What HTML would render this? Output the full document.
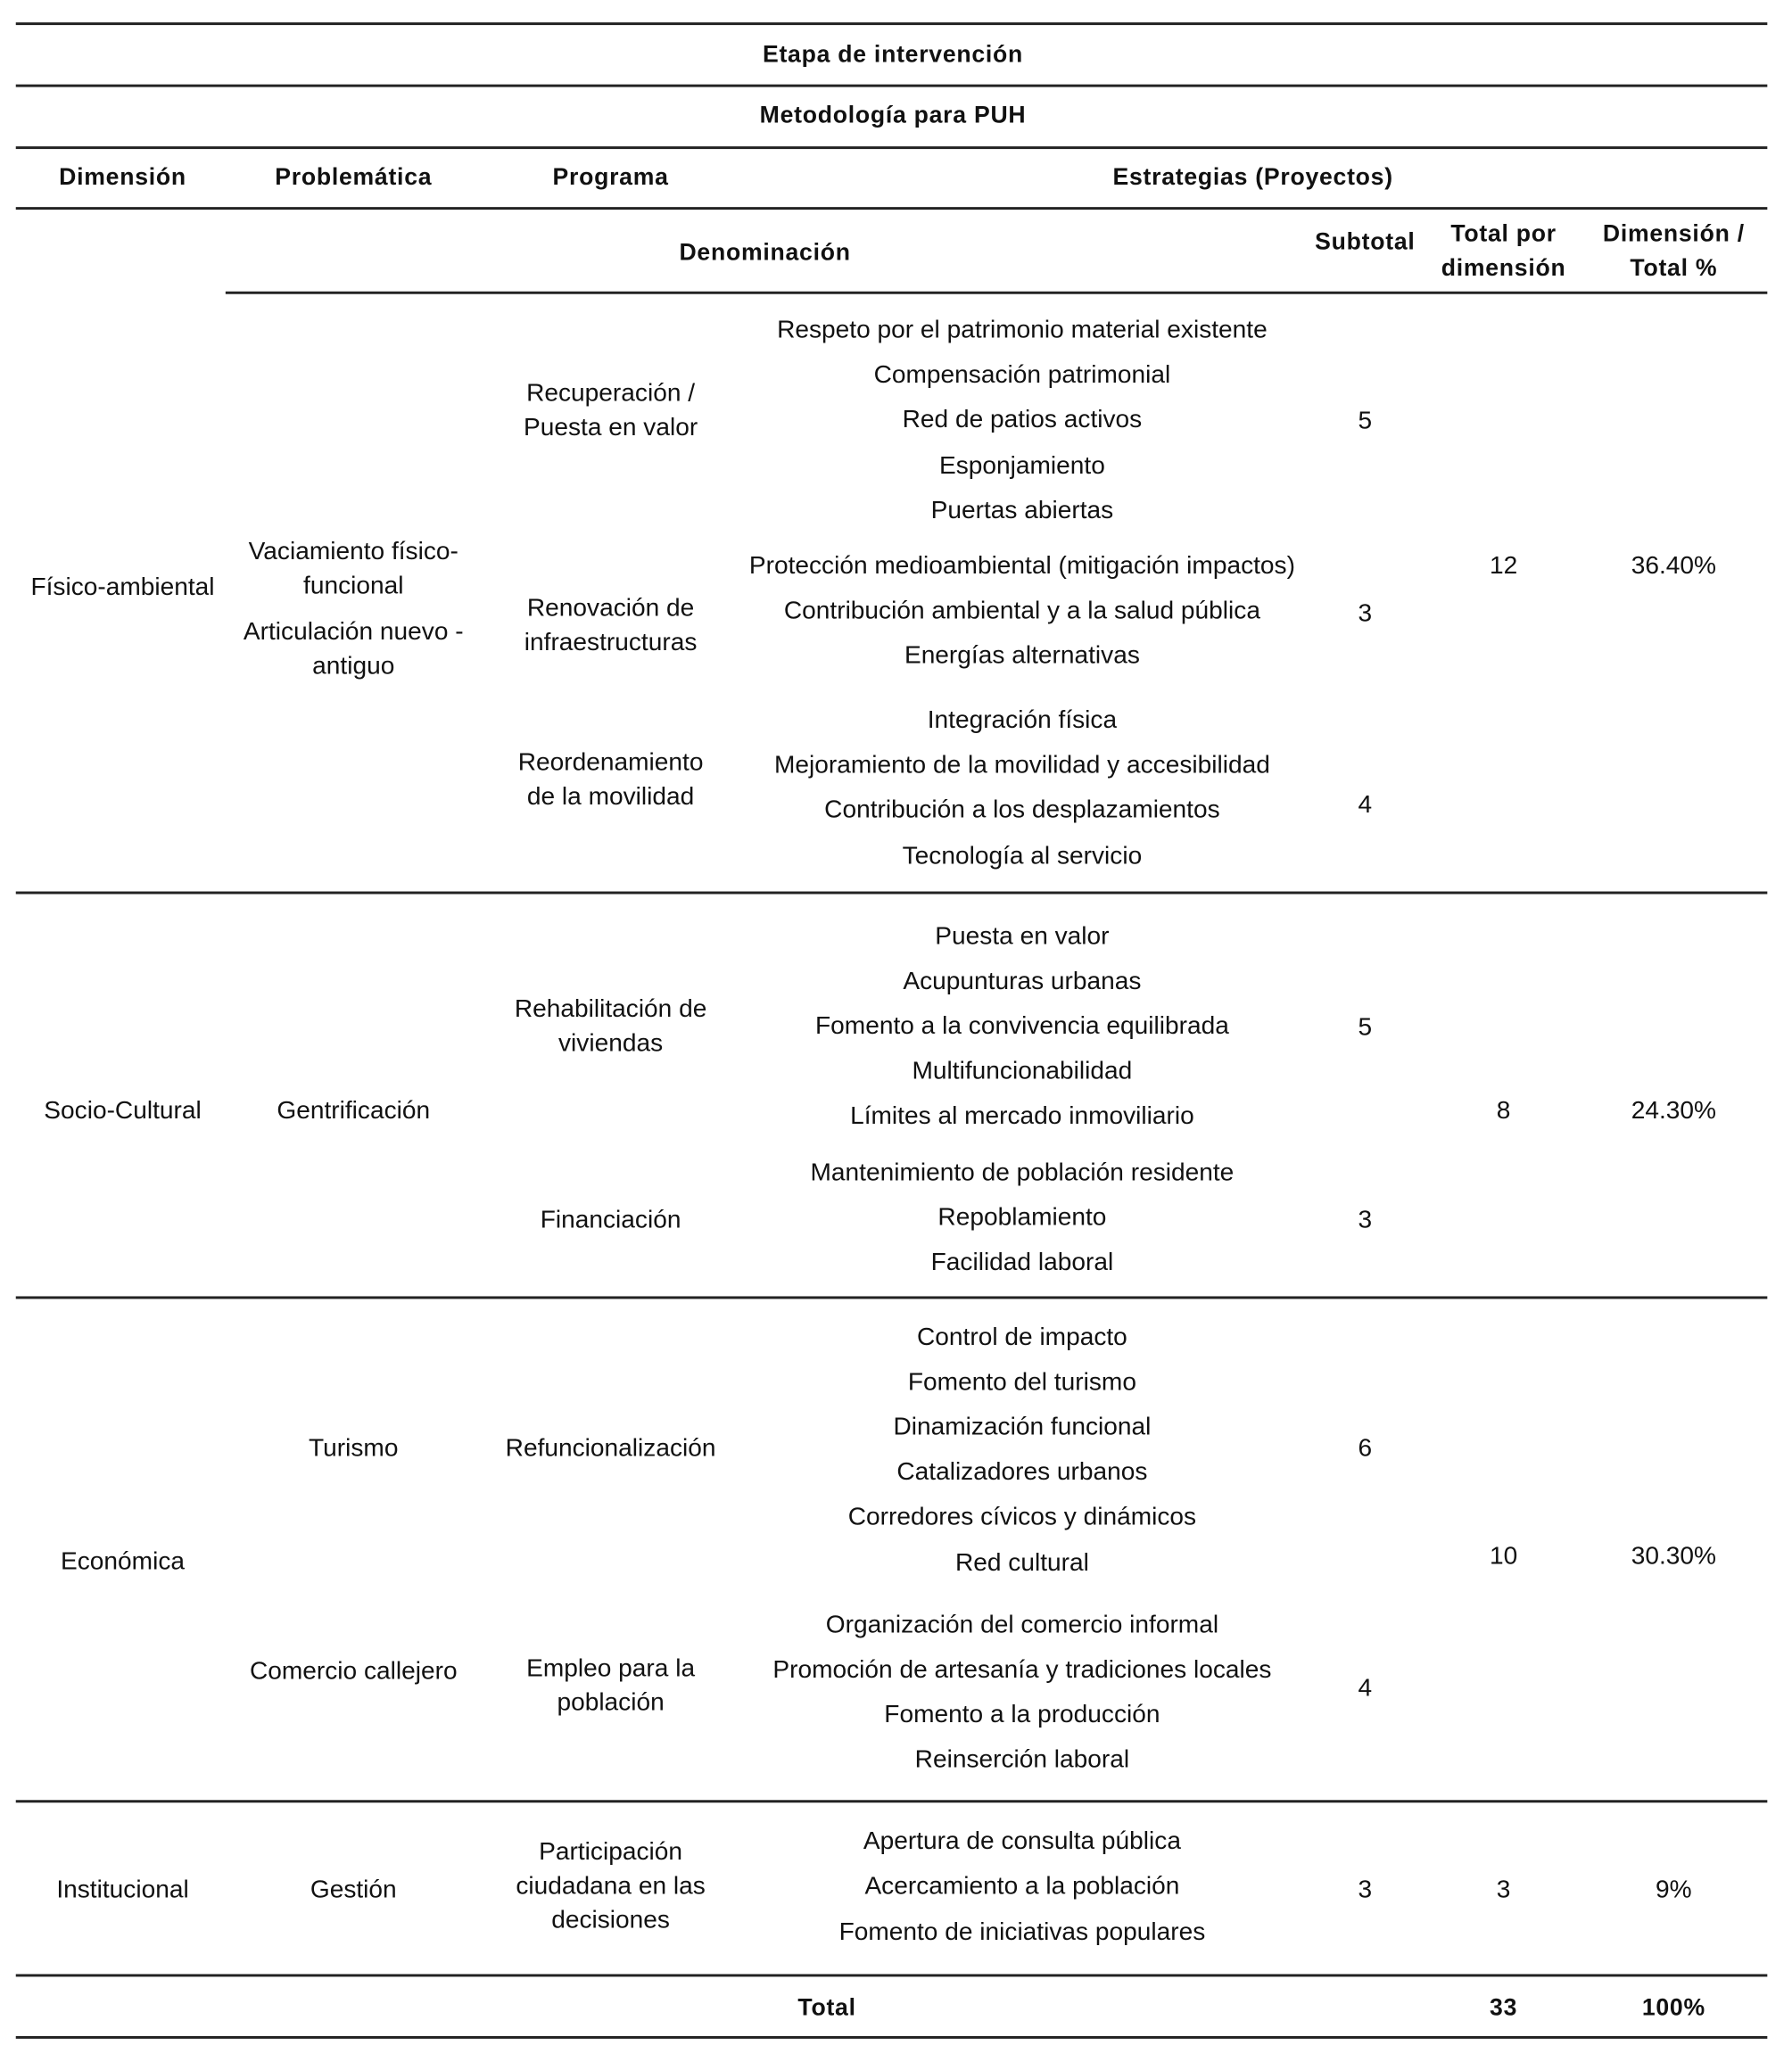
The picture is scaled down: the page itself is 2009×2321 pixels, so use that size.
<!DOCTYPE html>
<html><head><meta charset="utf-8"><style>
html,body{margin:0;padding:0;background:#fff;}
body{width:2009px;height:2318px;overflow:hidden;position:relative;}
#w{position:absolute;left:0;top:0;width:1360px;height:1570px;transform:scale(1.4786);transform-origin:0 0;font-family:"Liberation Sans",sans-serif;font-size:19px;color:#111;}
.t{position:absolute;transform:translate(-50%,-50%);white-space:nowrap;text-align:center;line-height:26px;}
.b{font-weight:bold;font-size:18px;letter-spacing:0.5px;}
.l{position:absolute;height:1.6px;background:#222;}
</style></head><body><div id="w">
<div class="l" style="left:12px;width:1328px;top:17px"></div>
<div class="l" style="left:12px;width:1328px;top:64px"></div>
<div class="l" style="left:12px;width:1328px;top:111px"></div>
<div class="l" style="left:12px;width:1328px;top:157px"></div>
<div class="l" style="left:171px;width:1169px;top:221px"></div>
<div class="l" style="left:12px;width:1328px;top:676px"></div>
<div class="l" style="left:12px;width:1328px;top:983px"></div>
<div class="l" style="left:12px;width:1328px;top:1365px"></div>
<div class="l" style="left:12px;width:1328px;top:1497px"></div>
<div class="l" style="left:12px;width:1328px;top:1544px"></div>

<div class="t b" style="left:677px;top:41px">Etapa de intervención</div>
<div class="t b" style="left:677px;top:87px">Metodología para PUH</div>
<div class="t b" style="left:93px;top:134px">Dimensión</div>
<div class="t b" style="left:268px;top:134px">Problemática</div>
<div class="t b" style="left:463px;top:134px">Programa</div>
<div class="t b" style="left:950px;top:134px">Estrategias (Proyectos)</div>
<div class="t b" style="left:580px;top:191px">Denominación</div>
<div class="t b" style="left:1035px;top:183px">Subtotal</div>
<div class="t b" style="left:1140px;top:190px">Total por<br>dimensión</div>
<div class="t b" style="left:1269px;top:190px">Dimensión /<br>Total %</div>

<div class="t" style="left:93px;top:446px">Físico-ambiental</div>
<div class="t" style="left:268px;top:432px">Vaciamiento físico-<br>funcional</div>
<div class="t" style="left:268px;top:493px">Articulación nuevo -<br>antiguo</div>
<div class="t" style="left:463px;top:312px">Recuperación /<br>Puesta en valor</div>
<div class="t" style="left:463px;top:475px">Renovación de<br>infraestructuras</div>
<div class="t" style="left:463px;top:592px">Reordenamiento<br>de la movilidad</div>
<div class="t" style="left:775px;top:251px">Respeto por el patrimonio material existente</div>
<div class="t" style="left:775px;top:285px">Compensación patrimonial</div>
<div class="t" style="left:775px;top:319px">Red de patios activos</div>
<div class="t" style="left:775px;top:354px">Esponjamiento</div>
<div class="t" style="left:775px;top:388px">Puertas abiertas</div>
<div class="t" style="left:775px;top:430px">Protección medioambiental (mitigación impactos)</div>
<div class="t" style="left:775px;top:464px">Contribución ambiental y a la salud pública</div>
<div class="t" style="left:775px;top:498px">Energías alternativas</div>
<div class="t" style="left:775px;top:547px">Integración física</div>
<div class="t" style="left:775px;top:581px">Mejoramiento de la movilidad y accesibilidad</div>
<div class="t" style="left:775px;top:615px">Contribución a los desplazamientos</div>
<div class="t" style="left:775px;top:650px">Tecnología al servicio</div>
<div class="t" style="left:1035px;top:320px">5</div>
<div class="t" style="left:1035px;top:466px">3</div>
<div class="t" style="left:1035px;top:611px">4</div>
<div class="t" style="left:1140px;top:430px">12</div>
<div class="t" style="left:1269px;top:430px">36.40%</div>

<div class="t" style="left:93px;top:843px">Socio-Cultural</div>
<div class="t" style="left:268px;top:843px">Gentrificación</div>
<div class="t" style="left:463px;top:779px">Rehabilitación de<br>viviendas</div>
<div class="t" style="left:463px;top:926px">Financiación</div>
<div class="t" style="left:775px;top:711px">Puesta en valor</div>
<div class="t" style="left:775px;top:745px">Acupunturas urbanas</div>
<div class="t" style="left:775px;top:779px">Fomento a la convivencia equilibrada</div>
<div class="t" style="left:775px;top:813px">Multifuncionabilidad</div>
<div class="t" style="left:775px;top:847px">Límites al mercado inmoviliario</div>
<div class="t" style="left:775px;top:890px">Mantenimiento de población residente</div>
<div class="t" style="left:775px;top:924px">Repoblamiento</div>
<div class="t" style="left:775px;top:958px">Facilidad laboral</div>
<div class="t" style="left:1035px;top:780px">5</div>
<div class="t" style="left:1035px;top:926px">3</div>
<div class="t" style="left:1140px;top:843px">8</div>
<div class="t" style="left:1269px;top:843px">24.30%</div>

<div class="t" style="left:93px;top:1185px">Económica</div>
<div class="t" style="left:268px;top:1099px">Turismo</div>
<div class="t" style="left:268px;top:1268px">Comercio callejero</div>
<div class="t" style="left:463px;top:1099px">Refuncionalización</div>
<div class="t" style="left:463px;top:1279px">Empleo para la<br>población</div>
<div class="t" style="left:775px;top:1015px">Control de impacto</div>
<div class="t" style="left:775px;top:1049px">Fomento del turismo</div>
<div class="t" style="left:775px;top:1083px">Dinamización funcional</div>
<div class="t" style="left:775px;top:1117px">Catalizadores urbanos</div>
<div class="t" style="left:775px;top:1151px">Corredores cívicos y dinámicos</div>
<div class="t" style="left:775px;top:1186px">Red cultural</div>
<div class="t" style="left:775px;top:1233px">Organización del comercio informal</div>
<div class="t" style="left:775px;top:1267px">Promoción de artesanía y tradiciones locales</div>
<div class="t" style="left:775px;top:1301px">Fomento a la producción</div>
<div class="t" style="left:775px;top:1335px">Reinserción laboral</div>
<div class="t" style="left:1035px;top:1099px">6</div>
<div class="t" style="left:1035px;top:1281px">4</div>
<div class="t" style="left:1140px;top:1181px">10</div>
<div class="t" style="left:1269px;top:1181px">30.30%</div>

<div class="t" style="left:93px;top:1434px">Institucional</div>
<div class="t" style="left:268px;top:1434px">Gestión</div>
<div class="t" style="left:463px;top:1431px">Participación<br>ciudadana en las<br>decisiones</div>
<div class="t" style="left:775px;top:1397px">Apertura de consulta pública</div>
<div class="t" style="left:775px;top:1431px">Acercamiento a la población</div>
<div class="t" style="left:775px;top:1466px">Fomento de iniciativas populares</div>
<div class="t" style="left:1035px;top:1434px">3</div>
<div class="t" style="left:1140px;top:1434px">3</div>
<div class="t" style="left:1269px;top:1434px">9%</div>

<div class="t b" style="left:627px;top:1522px">Total</div>
<div class="t b" style="left:1140px;top:1522px">33</div>
<div class="t b" style="left:1269px;top:1522px">100%</div>
</div></body></html>
